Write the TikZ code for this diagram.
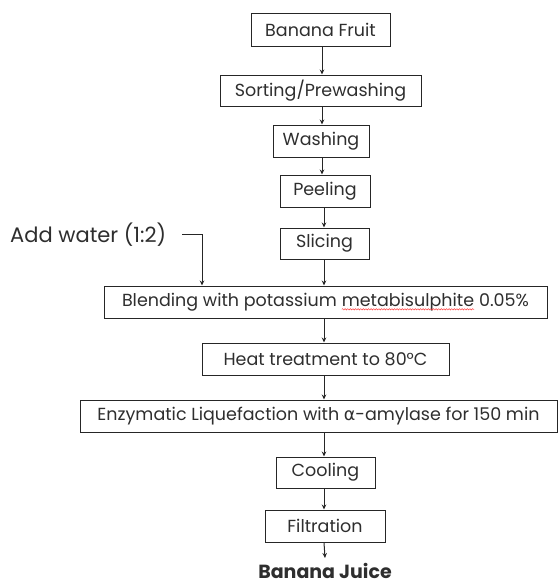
\documentclass[tikz,border=0pt]{standalone}
\usepackage{fontspec}
\setmainfont{Poppins}
\newfontfamily\greekfont{DejaVu Sans}
\usetikzlibrary{arrows.meta,decorations.pathmorphing}
\newcommand\spellmark[1]{\tikz[baseline=(w.base)]{\node[draw=none, inner sep=0pt, outer sep=0pt, minimum width=0pt, minimum height=0pt] (w) {#1};
  \draw[red!80, line width=0.45pt, decorate, decoration={snake,amplitude=0.7pt,segment length=2.6pt}]
    ([yshift=-3pt]w.base west) -- ([yshift=-3pt]w.base east);}}
\begin{document}
\begin{tikzpicture}[x=1pt,y=-1pt,
  every node/.style={font=\fontsize{17.5}{20}\selectfont, text=black!82},
  stepbox/.style={draw=black!85, line width=1pt, inner sep=0pt, align=center},
  flow/.style={draw=black!85, line width=1pt, -{Stealth[length=5pt,width=4.5pt]}}]
\useasboundingbox (0,0) rectangle (558,584);
\node[stepbox, minimum width=139pt, minimum height=33pt] (fruit) at (320.5,29.5) {Banana Fruit};
\node[stepbox, minimum width=201pt, minimum height=31pt] (sort) at (320.5,90.5) {Sorting/Prewashing};
\node[stepbox, minimum width=96pt, minimum height=32pt] (wash) at (321,141) {Washing};
\node[stepbox, minimum width=90pt, minimum height=32pt] (peel) at (325,191) {Peeling};
\node[stepbox, minimum width=89pt, minimum height=31pt] (slice) at (324.5,243.5) {Slicing};
\node[stepbox, minimum width=443pt, minimum height=32pt] (blend) at (325.5,302) {Blending with potassium \spellmark{metabisulphite} 0.05\%};
\node[stepbox, minimum width=247pt, minimum height=32pt] (heat) at (325.5,359) {Heat treatment to 80°C};
\node[stepbox, minimum width=477pt, minimum height=32pt] (enz) at (318.5,416) {Enzymatic Liquefaction with {\greekfont α}-amylase for 150 min};
\node[stepbox, minimum width=99pt, minimum height=31pt] (cool) at (325.5,472.5) {Cooling};
\node[stepbox, minimum width=120pt, minimum height=32pt] (filt) at (325,526) {Filtration};
\node[font=\fontsize{19}{22}\selectfont\bfseries, inner sep=0pt, anchor=base] (juice) at (325,578) {Banana Juice};
\node[font=\fontsize{21}{24}\selectfont, anchor=west, inner sep=0pt] (water) at (10,235) {Add water (1:2)};
\coordinate (ws) at (182,234);
\coordinate (wc) at (202,234);
\coordinate (jt) at (325,558);
\draw[flow] (fruit.south -| 322,0) -- (sort.north -| 322,0);
\draw[flow] (sort.south -| 322,0) -- (wash.north -| 322,0);
\draw[flow] (wash.south -| 322,0) -- (peel.north -| 322,0);
\draw[flow] (peel.south -| 324,0) -- (slice.north -| 324,0);
\draw[flow] (slice.south -| 324,0) -- (blend.north -| 324,0);
\draw[flow] (blend.south -| 324,0) -- (heat.north -| 324,0);
\draw[flow] (heat.south -| 324,0) -- (enz.north -| 324,0);
\draw[flow] (enz.south -| 324,0) -- (cool.north -| 324,0);
\draw[flow] (cool.south -| 324,0) -- (filt.north -| 324,0);
\draw[flow] (filt.south -| 324,0) -- (jt);
\draw[flow] (ws) -- (wc) -- (wc |- blend.north);
\end{tikzpicture}
\end{document}
